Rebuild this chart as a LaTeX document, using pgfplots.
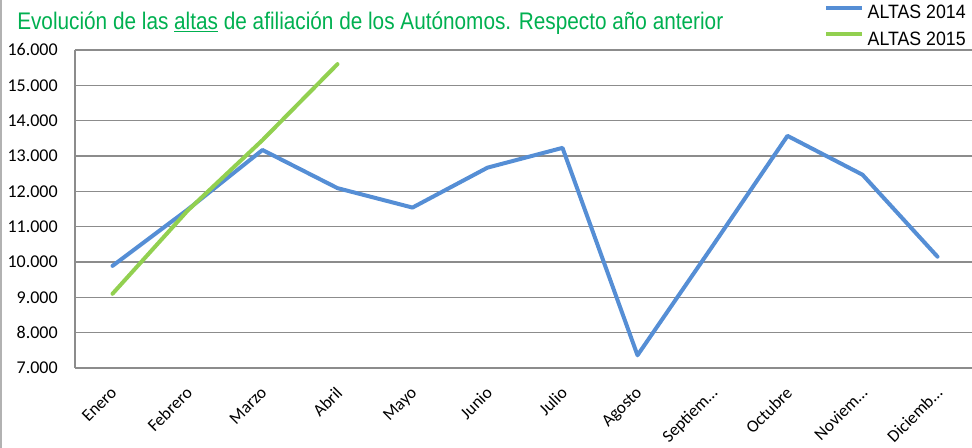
\documentclass[border=0pt]{standalone}
\usepackage{pgfplots}
\pgfplotsset{compat=1.18}
\usepackage{fontspec}
\setmainfont{Carlito}
\newfontfamily\titlefont{Liberation Sans}
\definecolor{blue14}{RGB}{85,142,213}
\definecolor{green15}{RGB}{146,208,80}
\definecolor{titlegreen}{RGB}{0,176,80}
\definecolor{gridgray}{RGB}{140,140,140}
\begin{document}
\begin{tikzpicture}
\begin{axis}[
  scale only axis,
  width=672.75pt, height=238.5pt,
  xmin=-0.5, xmax=11.46,
  ymin=7000, ymax=16000,
  ytick={7000,8000,...,16000},
  xtick={0,...,11},
  xticklabels={Enero,Febrero,Marzo,Abril,Mayo,Junio,Julio,Agosto,Septiem…,Octubre,Noviem…,Diciemb…},
  scaled y ticks=false,
  axis x line*=bottom, axis y line*=left,
  axis line style={gridgray, line width=1.2pt, -},
  ymajorgrids, grid style={gridgray, line width=1.2pt},
  major tick length=0pt,
  /pgf/number format/1000 sep={.},
  /pgf/number format/assume math mode=true,
  yticklabel style={font=\fontsize{13.5}{13.5}\selectfont, anchor=east, inner sep=0pt, xshift=-12.75pt},
  xticklabel style={font=\fontsize{13}{13}\selectfont, xshift=-2pt, yshift=-13pt, rotate=45, anchor=north east, inner sep=0pt},
  clip=false,
  legend style={at={(rel axis cs:1,1)}, anchor=south east, draw=none, fill=none,
    xshift=-3.5pt, yshift=1pt,
    inner sep=0pt, row sep=6pt, column sep=1.75pt,
    nodes={inner sep=1pt, font=\titlefont\fontsize{14.5}{14.5}\selectfont}},
  legend cell align=left,
  legend image code/.code={\draw[#1, line width=3pt, line cap=butt] (0pt,3.75pt) -- (27pt,3.75pt);},
]
\addplot[blue14, line width=3pt, line join=round, line cap=round] coordinates {
(0,9890) (1,11480) (2,13170) (3,12090) (4,11540) (5,12670) (6,13230) (7,7360) (8,10450) (9,13570) (10,12470) (11,10150)};
\addlegendentry{\resizebox{73.5pt}{\height}{ALTAS 2014}}
\addplot[green15, line width=3pt, line join=round, line cap=round] coordinates {
(0,9100) (1,11450) (2,13450) (3,15600)};
\addlegendentry{\resizebox{73.5pt}{\height}{ALTAS 2015}}
\coordinate (sw) at (rel axis cs:0,0);
\node[anchor=base west, inner sep=0pt, xshift=-43.5pt, yshift=15.5pt, text=titlegreen,
  font=\titlefont\fontsize{18}{18}\selectfont] at (rel axis cs:0,1)
  {\resizebox{529.5pt}{\height}{Evolución de las \underline{altas} de afiliación de los Autónomos. Respecto año anterior}};
\end{axis}
\draw[gray!60, line width=2pt] ([xshift=-55.5pt, yshift=-60pt]sw) -- ++(0,336pt);
\pgfresetboundingbox
\path ([xshift=-56.25pt, yshift=-60pt]sw) rectangle ++(729pt,336pt);
\end{tikzpicture}
\end{document}
